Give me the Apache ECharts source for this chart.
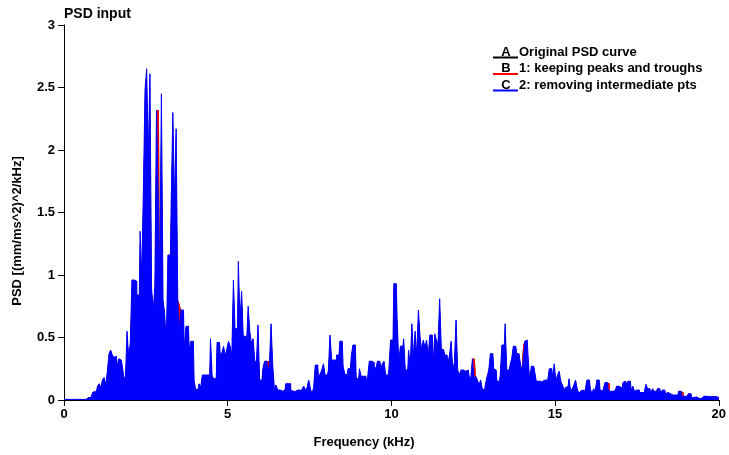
<!DOCTYPE html>
<html>
<head>
<meta charset="utf-8">
<title>PSD input</title>
<script src="https://cdn.jsdelivr.net/npm/echarts@6/dist/echarts.min.js"></script>
<style>
  html, body { margin: 0; padding: 0; background: #ffffff; }
  #chart { width: 729px; height: 455px; }
</style>
</head>
<body>
<div id="chart"></div>
<script>
// Frequency grid of the PSD samples (kHz)
const freqStartKHz = 0;
const freqStepKHz = 0.05;

// PSD after removing intermediate points, (mm/ms^2)^2/kHz, one value per grid step
const psdReduced = [
  // 0 - 1 kHz
  0.005, 0.005, 0.005, 0.005, 0.005, 0.005, 0.005, 0.005, 0.005, 0.005, 0.005, 0.005, 0.005, 0.005, 0.015, 0.02, 0.02, 0.03, 0.06, 0.07,
  // 1 - 2 kHz
  0.05, 0.11, 0.13, 0.10, 0.16, 0.18, 0.12, 0.23, 0.37, 0.40, 0.36, 0.34, 0.35, 0.27, 0.33, 0.32, 0.28, 0.19, 0.16, 0.55,
  // 2 - 3 kHz
  0.35, 0.45, 0.96, 0.96, 0.95, 0.84, 0.84, 1.35, 0.99, 1.69, 2.48, 2.65, 1.95, 2.61, 0.90, 0.71, 0.91, 2.32, 1.66, 0.96,
  // 3 - 4 kHz
  2.45, 0.80, 0.69, 0.45, 1.16, 1.16, 1.59, 2.30, 1.59, 2.17, 0.80, 0.57, 0.72, 0.72, 0.40, 0.59, 0.59, 0.40, 0.47, 0.47,
  // 4 - 5 kHz
  0.15, 0.08, 0.09, 0.13, 0.10, 0.20, 0.20, 0.20, 0.19, 0.20, 0.49, 0.19, 0.17, 0.17, 0.46, 0.46, 0.35, 0.38, 0.43, 0.35,
  // 5 - 6 kHz
  0.41, 0.47, 0.43, 0.35, 0.96, 0.57, 0.57, 1.11, 0.63, 0.87, 0.51, 0.51, 0.44, 0.75, 0.55, 0.45, 0.49, 0.32, 0.28, 0.60,
  // 6 - 7 kHz
  0.16, 0.16, 0.25, 0.31, 0.31, 0.22, 0.29, 0.61, 0.28, 0.09, 0.12, 0.08, 0.08, 0.07, 0.08, 0.08, 0.13, 0.13, 0.13, 0.08,
  // 7 - 8 kHz
  0.07, 0.07, 0.07, 0.08, 0.08, 0.04, 0.09, 0.11, 0.08, 0.10, 0.16, 0.09, 0.05, 0.10, 0.28, 0.28, 0.17, 0.21, 0.24, 0.29,
  // 8 - 9 kHz
  0.20, 0.20, 0.24, 0.52, 0.32, 0.32, 0.32, 0.36, 0.36, 0.47, 0.47, 0.27, 0.21, 0.20, 0.25, 0.25, 0.35, 0.44, 0.44, 0.17,
  // 9 - 10 kHz
  0.17, 0.25, 0.19, 0.19, 0.19, 0.16, 0.18, 0.31, 0.31, 0.30, 0.27, 0.25, 0.31, 0.31, 0.25, 0.29, 0.31, 0.20, 0.20, 0.25,
  // 10 - 11 kHz
  0.48, 0.48, 0.93, 0.93, 0.65, 0.30, 0.43, 0.43, 0.49, 0.24, 0.24, 0.40, 0.27, 0.61, 0.35, 0.55, 0.36, 0.72, 0.51, 0.40,
  // 11 - 12 kHz
  0.48, 0.42, 0.48, 0.35, 0.52, 0.52, 0.27, 0.53, 0.48, 0.45, 0.81, 0.41, 0.40, 0.36, 0.36, 0.29, 0.36, 0.47, 0.24, 0.30,
  // 12 - 13 kHz
  0.64, 0.24, 0.20, 0.24, 0.24, 0.23, 0.24, 0.24, 0.19, 0.17, 0.33, 0.17, 0.19, 0.16, 0.12, 0.16, 0.09, 0.08, 0.13, 0.19,
  // 13 - 14 kHz
  0.24, 0.37, 0.37, 0.25, 0.24, 0.15, 0.15, 0.20, 0.44, 0.44, 0.61, 0.24, 0.24, 0.28, 0.33, 0.43, 0.43, 0.37, 0.37, 0.32,
  // 14 - 15 kHz
  0.23, 0.31, 0.47, 0.48, 0.35, 0.15, 0.27, 0.27, 0.23, 0.15, 0.15, 0.15, 0.13, 0.15, 0.16, 0.16, 0.15, 0.25, 0.25, 0.18,
  // 15 - 16 kHz
  0.29, 0.15, 0.20, 0.23, 0.15, 0.12, 0.08, 0.10, 0.11, 0.17, 0.07, 0.09, 0.12, 0.16, 0.09, 0.05, 0.07, 0.08, 0.07, 0.09,
  // 16 - 17 kHz
  0.16, 0.16, 0.09, 0.05, 0.09, 0.07, 0.16, 0.16, 0.08, 0.07, 0.09, 0.14, 0.14, 0.08, 0.07, 0.07, 0.07, 0.08, 0.11, 0.11,
  // 17 - 18 kHz
  0.10, 0.05, 0.14, 0.15, 0.13, 0.15, 0.15, 0.08, 0.11, 0.07, 0.08, 0.08, 0.06, 0.06, 0.06, 0.05, 0.125, 0.09, 0.09, 0.05,
  // 18 - 19 kHz
  0.09, 0.07, 0.07, 0.09, 0.09, 0.05, 0.08, 0.08, 0.05, 0.06, 0.05, 0.05, 0.04, 0.04, 0.035, 0.04, 0.07, 0.07, 0.03, 0.03,
  // 19 - 20 kHz
  0.03, 0.03, 0.05, 0.05, 0.02, 0.02, 0.025, 0.015, 0.013, 0.013, 0.025, 0.03, 0.03, 0.027, 0.027, 0.027, 0.027, 0.027, 0.027, 0.02,
  0.02
];

// Peaks/troughs that the reduced curve drops (kept by version 1 only)
const keptOnlyFreqKHz = [2.90, 3.55, 6.25, 12.55, 14.05, 16.65, 18.90];
const keptOnlyPsd     = [2.32, 0.77, 0.31, 0.33, 0.44, 0.13, 0.06];

// Axis ticks
const xTicks = [0, 5, 10, 15, 20];
const yTicks = [0, 0.5, 1, 1.5, 2, 2.5, 3];

// Legend entries
const legendKeys   = ['A', 'B', 'C'];
const legendTexts  = ['Original PSD curve', '1: keeping peaks and troughs', '2: removing intermediate pts'];
const seriesColors = ['#000000', '#ff0000', '#0000ff'];

// ---- build series data ----
const freqAt = i => +(freqStartKHz + i * freqStepKHz).toFixed(4);
const psdPeaksTroughs = psdReduced.slice();
keptOnlyFreqKHz.forEach((f, k) => {
  const idx = Math.round((f - freqStartKHz) / freqStepKHz);
  psdPeaksTroughs[idx] = keptOnlyPsd[k];
});
const psdOriginal = psdPeaksTroughs.slice();

const toPairs = arr => arr.map((v, i) => [freqAt(i), v]);
const seriesValues = [psdOriginal, psdPeaksTroughs, psdReduced];
// only the top curve gets an outline; the ones beneath show through as fill
const outlineWidths = [0, 0, 1];

const FONT = '"Liberation Sans", Arial, Helvetica, sans-serif';

const series = legendKeys.map((key, s) => ({
  name: key,
  type: 'line',
  step: 'middle',
  showSymbol: false,
  symbol: 'none',
  silent: true,
  data: toPairs(seriesValues[s]),
  lineStyle: { color: seriesColors[s], width: outlineWidths[s] },
  areaStyle: { color: seriesColors[s], opacity: 1 },
  z: 2 + s
}));

// Legend drawn as a short coloured underline beneath the key letter
const legendGraphics = [];
const legendRowY = [57.5, 74, 90.5];
legendKeys.forEach((key, i) => {
  legendGraphics.push({
    type: 'line',
    shape: { x1: 493, y1: legendRowY[i], x2: 518, y2: legendRowY[i] },
    style: { stroke: seriesColors[i], lineWidth: 2 }
  });
  legendGraphics.push({
    type: 'text',
    x: 506, y: legendRowY[i] + 1,
    style: { text: key, font: 'bold 13px ' + FONT, fill: '#000', textAlign: 'center', textVerticalAlign: 'bottom' }
  });
  legendGraphics.push({
    type: 'text',
    x: 519, y: legendRowY[i] + 1,
    style: { text: legendTexts[i], font: 'bold 13px ' + FONT, fill: '#000', textAlign: 'left', textVerticalAlign: 'bottom' }
  });
});

const chart = echarts.init(document.getElementById('chart'), null, { renderer: 'canvas' });
chart.setOption({
  animation: false,
  backgroundColor: '#ffffff',
  title: {
    text: 'PSD input',
    left: 64, top: 7,
    padding: 0,
    textStyle: { fontFamily: FONT, fontWeight: 'bold', fontSize: 14, color: '#000' }
  },
  grid: { left: 64, right: 5, top: 25, bottom: 55, containLabel: false },
  xAxis: {
    type: 'value',
    min: xTicks[0], max: xTicks[xTicks.length - 1], interval: xTicks[1] - xTicks[0],
    axisLine: { show: true, onZero: false, lineStyle: { color: '#000', width: 1 } },
    axisTick: { show: true, inside: false, length: 6, lineStyle: { color: '#000' } },
    axisLabel: { margin: 8, fontFamily: FONT, fontWeight: 'bold', fontSize: 13, color: '#000', showMaxLabel: true, showMinLabel: true },
    splitLine: { show: false }
  },
  yAxis: {
    type: 'value',
    min: yTicks[0], max: yTicks[yTicks.length - 1], interval: yTicks[1] - yTicks[0],
    axisLine: { show: true, lineStyle: { color: '#000', width: 1 } },
    axisTick: { show: true, inside: false, length: 6, lineStyle: { color: '#000' } },
    axisLabel: { margin: 9, fontFamily: FONT, fontWeight: 'bold', fontSize: 13, color: '#000' },
    splitLine: { show: false }
  },
  graphic: [
    {
      type: 'text', x: 364, y: 442,
      style: { text: 'Frequency (kHz)', font: 'bold 13px ' + FONT, fill: '#000', textAlign: 'center', textVerticalAlign: 'middle' }
    },
    {
      type: 'text', x: 17, y: 231, rotation: Math.PI / 2,
      style: { text: 'PSD [(mm/ms^2)^2/kHz]', font: 'bold 13px ' + FONT, fill: '#000', textAlign: 'center', textVerticalAlign: 'middle' }
    }
  ].concat(legendGraphics),
  series: series
});
</script>
</body>
</html>
